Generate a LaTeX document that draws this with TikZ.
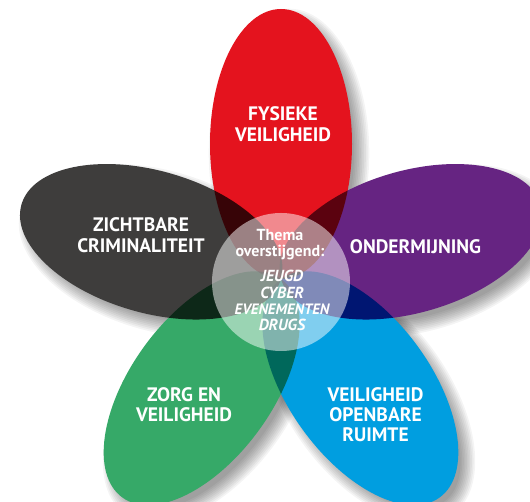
\documentclass[tikz,border=0pt]{standalone}
\usepackage{fontspec}
\setmainfont{PT Sans}
\definecolor{cred}{RGB}{228,19,30}
\definecolor{cpur}{RGB}{102,36,130}
\definecolor{cblu}{RGB}{0,158,224}
\definecolor{cgrn}{RGB}{54,169,104}
\definecolor{cgry}{RGB}{62,61,60}
\begin{document}
\begin{tikzpicture}[x=1pt,y=1pt,
  lab/.style={text=white, font=\bfseries\fontsize{19.5}{21}\selectfont, align=center, inner sep=0pt},
  ctop/.style={text=white, font=\bfseries\fontsize{16}{16}\selectfont, anchor=base, inner sep=0pt},
  clist/.style={text=white, font=\bfseries\itshape\fontsize{16}{16}\selectfont, anchor=base, inner sep=0pt}]
\useasboundingbox (0,0) rectangle (530,502);
\clip (0,0) rectangle (530,502);
\fill[white] (0,0) rectangle (530,502);
% soft shadows
\foreach \ang in {90,16,-54,-126,164}{
  \begin{scope}[shift={(289,214)}, rotate=\ang]
    \foreach \i in {0,...,9}{
      \fill[black, opacity=0.042] (135,0) ellipse [x radius={129+1.7*\i}, y radius={65+1.7*\i}];
    }
  \end{scope}
}
% petals
\begin{scope}[transparency group]
\begin{scope}[blend mode=multiply]
\foreach \ang/\col in {90/cred,16/cpur,-54/cblu,-126/cgrn,164/cgry}{
  \fill[\col, shift={(281,223)}, rotate=\ang] (135,0) ellipse [x radius=135, y radius=71];
}
\end{scope}
\end{scope}
% centre circle
\fill[white, fill opacity=0.5] (281,220) circle [radius=69];
% labels
\node[lab] (fys) at (283,377.5) {FYSIEKE\\VEILIGHEID};
\node[lab] (zich) at (141,267) {ZICHTBARE\\CRIMINALITEIT};
\node[lab] (ond) at (415.5,255.5) {ONDERMIJNING};
\node[lab, font=\bfseries\fontsize{19.5}{20}\selectfont] (zorg) at (184,97) {ZORG EN\\VEILIGHEID};
\node[lab, font=\bfseries\fontsize{19.5}{20}\selectfont] (vor) at (375.5,87.5) {VEILIGHEID\\OPENBARE\\RUIMTE};
% centre text
\node[ctop] (thema) at (280,261) {Thema};
\node[ctop] (over) at (280,245) {overstijgend:};
\node[clist] (jeugd) at (282,220.5) {JEUGD};
\node[clist] (cyber) at (282,203) {CYBER};
\node[clist, font=\bfseries\itshape\fontsize{15}{16}\selectfont] (even) at (282,187) {EVENEMENTEN};
\node[clist] (drugs) at (282,171) {DRUGS};
\end{tikzpicture}
\end{document}
